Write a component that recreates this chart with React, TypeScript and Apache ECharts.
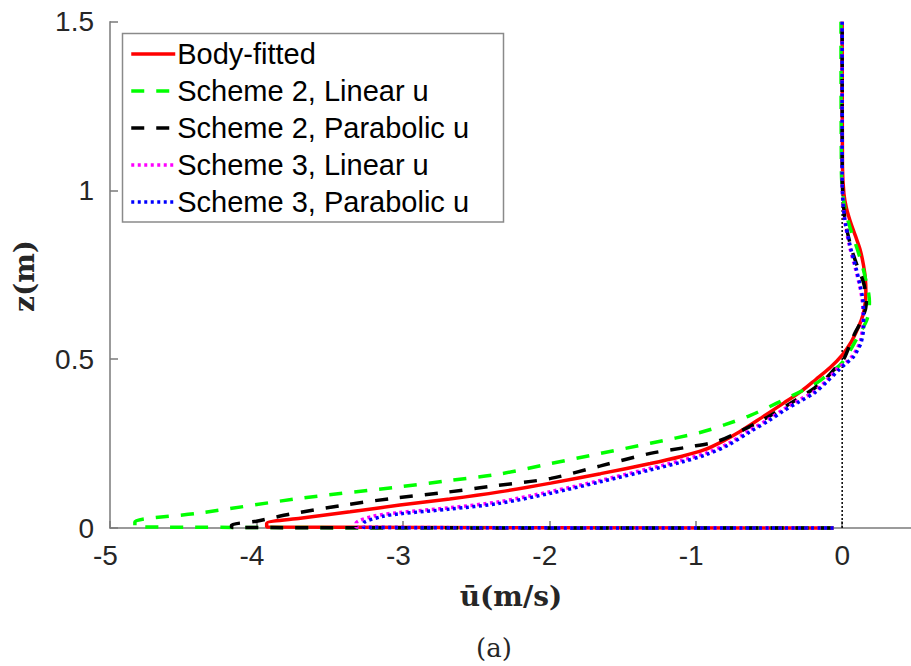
import React, { useEffect, useRef } from "react";
import * as echarts from "echarts";

// Mean streamwise velocity profiles ū(z) for each scheme.
const bodyFittedU = [-0.06, -3.93, -3.93, -3.7, -3.36, -3.02, -2.68, -2.34, -1.99, -1.65, -1.31, -1.1, -0.94, -0.82, -0.7, -0.55, -0.4, -0.28, -0.18, -0.08, 0.0, 0.06, 0.1, 0.13, 0.152, 0.162, 0.158, 0.145, 0.123, 0.09, 0.055, 0.028, 0.012, 0.002, 0.0];
const bodyFittedZ = [0, 0.003, 0.014, 0.029, 0.048, 0.068, 0.086, 0.107, 0.133, 0.161, 0.191, 0.212, 0.232, 0.256, 0.285, 0.327, 0.37, 0.405, 0.44, 0.476, 0.512, 0.55, 0.585, 0.615, 0.65, 0.697, 0.74, 0.78, 0.824, 0.866, 0.909, 0.95, 0.99, 1.07, 1.5];

const s2LinearU = [-0.06, -4.83, -4.83, -4.39, -3.7, -3.02, -2.68, -2.34, -1.99, -1.65, -1.31, -0.97, -0.8, -0.63, -0.45, -0.29, -0.18, -0.105, -0.05, 0.0, 0.06, 0.12, 0.16, 0.18, 0.186, 0.181, 0.169, 0.148, 0.12, 0.088, 0.055, 0.028, 0.009, -0.005, -0.008];
const s2LinearZ = [0, 0.004, 0.018, 0.044, 0.088, 0.122, 0.141, 0.16, 0.191, 0.221, 0.251, 0.283, 0.306, 0.333, 0.369, 0.403, 0.428, 0.452, 0.47, 0.49, 0.53, 0.577, 0.608, 0.634, 0.67, 0.695, 0.718, 0.76, 0.803, 0.846, 0.888, 0.93, 0.972, 1.05, 1.5];

const s2ParabolicU = [-0.06, -4.17, -4.17, -4.0, -3.77, -3.4, -3.05, -2.72, -2.37, -1.99, -1.65, -1.31, -1.05, -0.85, -0.68, -0.51, -0.355, -0.19, -0.1, -0.025, 0.01, 0.05, 0.09, 0.125, 0.145, 0.16, 0.165, 0.16, 0.15, 0.128, 0.1, 0.066, 0.03, 0.01, 0.0, 0.0];
const s2ParabolicZ = [0, 0.002, 0.009, 0.02, 0.041, 0.068, 0.089, 0.105, 0.125, 0.147, 0.184, 0.221, 0.24, 0.257, 0.29, 0.328, 0.369, 0.414, 0.448, 0.485, 0.5, 0.54, 0.58, 0.608, 0.63, 0.65, 0.67, 0.695, 0.72, 0.75, 0.78, 0.824, 0.888, 0.95, 1.05, 1.5];

const s3LinearU = [-0.06, -3.32, -3.32, -3.2, -3.02, -2.68, -2.34, -1.99, -1.65, -1.31, -1.1, -0.93, -0.78, -0.63, -0.5, -0.4, -0.29, -0.19, -0.1, -0.02, 0.03, 0.07, 0.1, 0.125, 0.14, 0.142, 0.135, 0.118, 0.095, 0.05, 0.018, 0.004, 0.0, 0.0];
const s3LinearZ = [0, 0.003, 0.014, 0.035, 0.046, 0.06, 0.078, 0.108, 0.141, 0.177, 0.2, 0.222, 0.25, 0.29, 0.323, 0.352, 0.38, 0.405, 0.44, 0.478, 0.492, 0.51, 0.53, 0.555, 0.6, 0.64, 0.68, 0.72, 0.761, 0.835, 0.909, 0.97, 1.05, 1.5];

const s3ParabolicU = [-0.06, -3.27, -3.27, -3.15, -3.02, -2.68, -2.34, -1.99, -1.65, -1.31, -1.1, -0.93, -0.78, -0.63, -0.5, -0.4, -0.29, -0.19, -0.1, -0.014, 0.02, 0.077, 0.105, 0.13, 0.146, 0.146, 0.14, 0.122, 0.1, 0.055, 0.02, 0.005, 0.0, 0.0];
const s3ParabolicZ = [0, 0.002, 0.013, 0.033, 0.042, 0.056, 0.073, 0.103, 0.137, 0.172, 0.195, 0.217, 0.245, 0.285, 0.318, 0.347, 0.375, 0.4, 0.435, 0.472, 0.485, 0.507, 0.527, 0.55, 0.595, 0.635, 0.68, 0.72, 0.761, 0.835, 0.909, 0.97, 1.05, 1.5];

// Reference line u = 0
const zeroLineU = [0, 0];
const zeroLineZ = [0, 1.5];

const seriesNames = [
  "Body-fitted",
  "Scheme 2, Linear u",
  "Scheme 2, Parabolic u",
  "Scheme 3, Linear u",
  "Scheme 3, Parabolic u",
];

const xTicks = [-5, -4, -3, -2, -1, 0];
const yTicks = [0, 0.5, 1, 1.5];

const zip = (u: number[], z: number[]) => u.map((v, i) => [v, z[i]]);

const SANS = "'Liberation Sans', Arial, Helvetica, sans-serif";
const SERIF = "'DejaVu Serif', serif";
const AXIS_GRAY = "#7a7a7a";
const LABEL = "#262626";

export default function App() {
  const ref = useRef<HTMLDivElement>(null);

  useEffect(() => {
    if (!ref.current) return;
    const chart = echarts.init(ref.current, undefined, { renderer: "svg" });

    const lineSeries = (
      name: string,
      data: number[][],
      color: string,
      type: any
    ) => ({
      name,
      type: "line",
      data,
      symbol: "none",
      showSymbol: false,
      clip: false,
      smooth: 0.3,
      lineStyle: { color, width: 3.5, type, cap: "butt" },
      itemStyle: { color },
      emphasis: { disabled: true },
    });

    chart.setOption({
      animation: false,
      backgroundColor: "#ffffff",
      grid: { left: 110, right: 0, top: 21.7, bottom: 138, containLabel: false },
      xAxis: {
        type: "value",
        min: -5,
        max: 0.47,
        interval: 1,
        axisLine: { show: true, onZero: false, lineStyle: { color: AXIS_GRAY, width: 1.5 } },
        axisTick: { show: true, inside: true, length: 7, customValues: xTicks, lineStyle: { color: AXIS_GRAY, width: 1.5 } },
        splitLine: { show: false },
        axisLabel: {
          customValues: xTicks,
          margin: 13,
          fontFamily: SANS,
          fontSize: 28,
          color: LABEL,
          formatter: (v: number) => (v < 0 ? `{n|${v}}` : `{p|${v}}`),
          rich: {
            n: { fontFamily: SANS, fontSize: 28, color: LABEL, padding: [0, 9, 0, 0] },
            p: { fontFamily: SANS, fontSize: 28, color: LABEL },
          },
        },
      },
      yAxis: {
        type: "value",
        min: yTicks[0],
        max: yTicks[yTicks.length - 1],
        interval: 0.5,
        axisLine: { show: true, onZero: false, lineStyle: { color: AXIS_GRAY, width: 1.5 } },
        axisTick: { show: true, inside: true, length: 8, lineStyle: { color: AXIS_GRAY, width: 1.5 } },
        splitLine: { show: false },
        axisLabel: { margin: 16, fontFamily: SANS, fontSize: 28, color: LABEL },
      },
      legend: {
        data: seriesNames,
        orient: "vertical",
        left: 123,
        top: 34,
        padding: [5.5, 0, 0, 6.5],
        itemWidth: 44,
        itemHeight: 14,
        itemGap: 8,
        selectedMode: false,
        z: 6,
        itemStyle: { opacity: 0, borderWidth: 0 },
        lineStyle: { width: 3.5 },
        textStyle: { fontFamily: SANS, fontSize: 29, color: "#000", lineHeight: 29, padding: [0, 0, 0, -3] },
      },
      graphic: [
        {
          type: "rect",
          z: 5,
          shape: { x: 122.5, y: 33.5, width: 381, height: 188.5 },
          style: { fill: "#ffffff", stroke: "#8a8a8a", lineWidth: 1.5 },
        },
        {
          type: "text",
          x: 511,
          y: 596,
          style: {
            text: "ū(m/s)",
            font: `bold 28px ${SERIF}`,
            fill: "#262626",
            align: "center",
            verticalAlign: "middle",
          },
        },
        {
          type: "text",
          x: 24,
          y: 276,
          rotation: Math.PI / 2,
          style: {
            text: "z(m)",
            font: `bold 28px ${SERIF}`,
            fill: "#262626",
            align: "center",
            verticalAlign: "middle",
          },
        },
        {
          type: "text",
          x: 494,
          y: 648,
          style: {
            text: "(a)",
            font: `26px ${SERIF}`,
            fill: "#262626",
            align: "center",
            verticalAlign: "middle",
          },
        },
      ],
      series: [
        {
          name: "u=0",
          type: "line",
          data: zip(zeroLineU, zeroLineZ),
          symbol: "none",
          clip: false,
          silent: true,
          lineStyle: { color: "#000", width: 1.5, type: [2, 2] },
          emphasis: { disabled: true },
        },
        lineSeries(seriesNames[0], zip(bodyFittedU, bodyFittedZ), "#ff0000", "solid"),
        lineSeries(seriesNames[1], zip(s2LinearU, s2LinearZ), "#00ff00", [13, 12]),
        lineSeries(seriesNames[2], zip(s2ParabolicU, s2ParabolicZ), "#000000", [13, 12]),
        lineSeries(seriesNames[3], zip(s3LinearU, s3LinearZ), "#ff00ff", [3, 3.5]),
        lineSeries(seriesNames[4], zip(s3ParabolicU, s3ParabolicZ), "#0000ff", [3, 3.5]),
      ],
    });

    return () => chart.dispose();
  }, []);

  return (
    <div
      ref={ref}
      style={{ position: "absolute", left: 0, top: 0, width: 911, height: 666, background: "#fff" }}
    />
  );
}
